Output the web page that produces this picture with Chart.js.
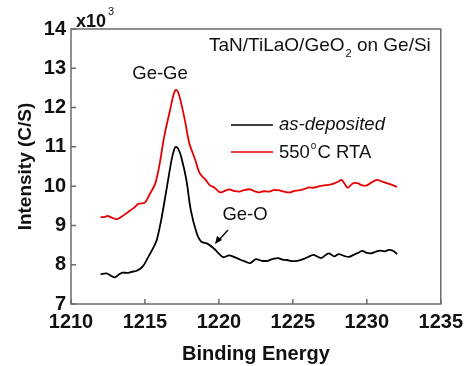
<!DOCTYPE html>
<html>
<head>
<meta charset="utf-8">
<script src="https://cdn.jsdelivr.net/npm/chart.js@4/dist/chart.umd.min.js"></script>
<style>
  html, body { margin: 0; padding: 0; background: #fff; }
  #wrap { width: 469px; height: 366px; }
</style>
</head>
<body>
<div id="wrap"><canvas id="xps" width="469" height="366"></canvas></div>
<script>
// binding energy (eV) and intensity (x10^3 C/S)
const energyAsDep = [1212.0, 1212.4, 1212.7, 1212.97, 1213.2, 1213.5, 1213.8, 1214.1, 1214.4, 1214.65,
  1214.85, 1215.0, 1215.3, 1215.55, 1215.8, 1216.1, 1216.45, 1216.8, 1217.0, 1217.1,
  1217.25, 1217.45, 1217.8, 1218.1, 1218.5, 1218.8, 1219.25, 1219.7, 1220.0, 1220.3,
  1220.7, 1221.0, 1221.5, 1221.8, 1222.1, 1222.5, 1222.9, 1223.3, 1223.6, 1224.0,
  1224.3, 1224.6, 1225.0, 1225.3, 1225.7, 1226.0, 1226.4, 1226.9, 1227.2, 1227.45,
  1227.8, 1228.1, 1228.5, 1228.8, 1229.1, 1229.4, 1229.7, 1230.0, 1230.3, 1230.6,
  1230.9, 1231.2, 1231.5, 1231.8, 1232.05];
const intensityAsDep = [7.76, 7.78, 7.72, 7.68, 7.74, 7.80, 7.79, 7.82, 7.84, 7.89,
  7.96, 8.04, 8.25, 8.42, 8.63, 9.14, 9.90, 10.67, 10.96, 11.0,
  10.95, 10.75, 10.16, 9.39, 8.80, 8.59, 8.53, 8.40, 8.28, 8.19,
  8.24, 8.20, 8.12, 8.08, 8.04, 8.14, 8.10, 8.10, 8.14, 8.17,
  8.13, 8.12, 8.09, 8.10, 8.14, 8.19, 8.25, 8.17, 8.24, 8.29,
  8.21, 8.27, 8.22, 8.20, 8.25, 8.30, 8.35, 8.30, 8.29, 8.33,
  8.36, 8.34, 8.38, 8.35, 8.27];

const energyRTA = [1212.0, 1212.3, 1212.5, 1212.8, 1213.1, 1213.4, 1213.75, 1214.0, 1214.3, 1214.55,
  1215.0, 1215.3, 1215.7, 1216.0, 1216.3, 1216.7, 1216.95, 1217.1, 1217.25, 1217.4,
  1217.7, 1218.0, 1218.4, 1218.7, 1219.1, 1219.4, 1219.7, 1220.0, 1220.15, 1220.4,
  1220.7, 1221.0, 1221.4, 1221.7, 1222.1, 1222.4, 1222.7, 1223.0, 1223.4, 1223.7,
  1224.1, 1224.4, 1224.8, 1225.1, 1225.4, 1225.8, 1226.1, 1226.4, 1226.8, 1227.1,
  1227.5, 1227.8, 1228.1, 1228.3, 1228.5, 1228.7, 1228.9, 1229.1, 1229.4, 1229.7,
  1230.0, 1230.3, 1230.7, 1231.0, 1231.4, 1231.7, 1232.05];
const intensityRTA = [9.21, 9.22, 9.24, 9.19, 9.16, 9.22, 9.31, 9.38, 9.46, 9.55,
  9.58, 9.78, 10.07, 10.58, 11.26, 11.94, 12.35, 12.45, 12.38, 12.19,
  11.68, 11.09, 10.67, 10.33, 10.16, 10.02, 9.96, 9.86, 9.84, 9.88,
  9.92, 9.88, 9.86, 9.90, 9.92, 9.87, 9.84, 9.87, 9.86, 9.90,
  9.89, 9.86, 9.84, 9.88, 9.89, 9.93, 9.97, 9.96, 10.0, 10.02,
  10.04, 10.07, 10.12, 10.16, 10.06, 9.96, 10.02, 10.08, 10.07, 10.02,
  10.02, 10.09, 10.16, 10.12, 10.07, 10.03, 9.98];

const seriesNames = ['as-deposited', '550°C RTA'];
const xTicks = [1210, 1215, 1220, 1225, 1230, 1235];
const yTicks = [7, 8, 9, 10, 11, 12, 13, 14];

const FONT = 'Arial, "Liberation Sans", sans-serif';
const AXIS = '#6b6b6b';

function toPoints(xs, ys) {
  return xs.map((x, i) => ({ x: x, y: ys[i] }));
}

// frame, inward ticks, legend and the text notes
const decor = {
  id: 'decor',
  afterDatasetsDraw(chart) {
    const ctx = chart.ctx;
    const a = chart.chartArea;
    const xs = chart.scales.x, ys = chart.scales.y;
    ctx.save();
    ctx.strokeStyle = AXIS;
    ctx.lineWidth = 1.5;
    ctx.strokeRect(a.left, a.top, a.right - a.left, a.bottom - a.top);
    ctx.beginPath();
    xTicks.forEach(v => {
      const px = xs.getPixelForValue(v);
      ctx.moveTo(px, a.bottom); ctx.lineTo(px, a.bottom - 5);
    });
    yTicks.forEach(v => {
      const py = ys.getPixelForValue(v);
      ctx.moveTo(a.left, py); ctx.lineTo(a.left + 5, py);
    });
    ctx.stroke();

    // x10^3
    ctx.fillStyle = '#111';
    ctx.textBaseline = 'alphabetic';
    ctx.textAlign = 'left';
    ctx.font = 'bold 18px ' + FONT;
    ctx.fillText('x10', 76, 27);
    ctx.font = '11px ' + FONT;
    ctx.fillText('3', 108, 15);

    // sample label
    ctx.font = '19px ' + FONT;
    let t1 = 'TaN/TiLaO/GeO';
    let x0 = 209;
    ctx.fillText(t1, x0, 51);
    x0 += ctx.measureText(t1).width;
    ctx.font = '11px ' + FONT;
    ctx.fillText('2', x0 + 1, 57);
    x0 += ctx.measureText('2').width + 1;
    ctx.font = '19px ' + FONT;
    ctx.fillText(' on Ge/Si', x0, 51);

    // legend
    const colors = ['#000', '#e60000'];
    const rowsY = [125, 152];
    rowsY.forEach((y, i) => {
      ctx.strokeStyle = colors[i];
      ctx.lineWidth = 1.6;
      ctx.beginPath();
      ctx.moveTo(231, y); ctx.lineTo(273, y);
      ctx.stroke();
    });
    ctx.fillStyle = '#111';
    ctx.textBaseline = 'middle';
    ctx.font = 'italic 18.5px ' + FONT;
    ctx.fillText(seriesNames[0], 279, 125);
    ctx.font = '18.5px ' + FONT;
    ctx.fillText('550', 279, 153);
    let w = ctx.measureText('550').width;
    ctx.font = '10px ' + FONT;
    ctx.fillText('o', 279 + w + 1, 146);
    let w2 = ctx.measureText('o').width;
    ctx.font = '18.5px ' + FONT;
    ctx.fillText('C RTA', 279 + w + w2 + 2, 153);

    // peak labels
    ctx.textAlign = 'center';
    ctx.fillText('Ge-Ge', 160, 74);
    ctx.fillText('Ge-O', 245, 215);

    // arrow to the Ge-O shoulder
    ctx.strokeStyle = '#000';
    ctx.lineWidth = 1.3;
    ctx.beginPath();
    ctx.moveTo(228, 230); ctx.lineTo(218, 241);
    ctx.stroke();
    ctx.fillStyle = '#000';
    ctx.beginPath();
    ctx.moveTo(215, 244);
    ctx.lineTo(217, 236);
    ctx.lineTo(222, 240);
    ctx.closePath();
    ctx.fill();
    ctx.restore();
  }
};

const datasets = [
  {
    label: seriesNames[0],
    data: toPoints(energyAsDep, intensityAsDep),
    borderColor: '#000',
    borderWidth: 1.8,
    pointRadius: 0,
    tension: 0.3,
    fill: false
  },
  {
    label: seriesNames[1],
    data: toPoints(energyRTA, intensityRTA),
    borderColor: '#e60000',
    borderWidth: 1.8,
    pointRadius: 0,
    tension: 0.3,
    fill: false
  }
];

const config = {
  type: 'line',
  data: { datasets },
  options: {
    responsive: false,
    animation: false,
    layout: { padding: { top: 29, right: 27, left: 0, bottom: 0 } },
    plugins: { legend: { display: false }, tooltip: { enabled: false } },
    scales: {
      x: {
        type: 'linear',
        min: 1210, max: 1235,
        afterBuildTicks: s => { s.ticks = xTicks.map(v => ({ value: v })); },
        afterFit: s => { s.height = 62; },
        grid: { display: false, drawTicks: false },
        border: { display: false },
        ticks: { color: '#111', padding: 6, maxRotation: 0,
          callback: v => String(v),
          font: { family: FONT, size: 20, weight: 'bold' } },
        title: { display: true, text: 'Binding Energy', color: '#111', padding: { top: 4, bottom: 0 },
          font: { family: FONT, size: 20, weight: 'bold' } }
      },
      y: {
        min: 7, max: 14,
        afterBuildTicks: s => { s.ticks = yTicks.map(v => ({ value: v })); },
        afterFit: s => { s.width = 71; },
        grid: { display: false, drawTicks: false },
        border: { display: false },
        ticks: { color: '#111', padding: 5, callback: v => String(v),
          font: { family: FONT, size: 20, weight: 'bold' } },
        title: { display: true, text: 'Intensity (C/S)', color: '#111', padding: { top: 14, bottom: 0 },
          font: { family: FONT, size: 19, weight: 'bold' } }
      }
    }
  },
  plugins: [decor]
};

const canvas = document.getElementById('xps');
const xpsChart = new Chart(canvas, config);
</script>
</body>
</html>
